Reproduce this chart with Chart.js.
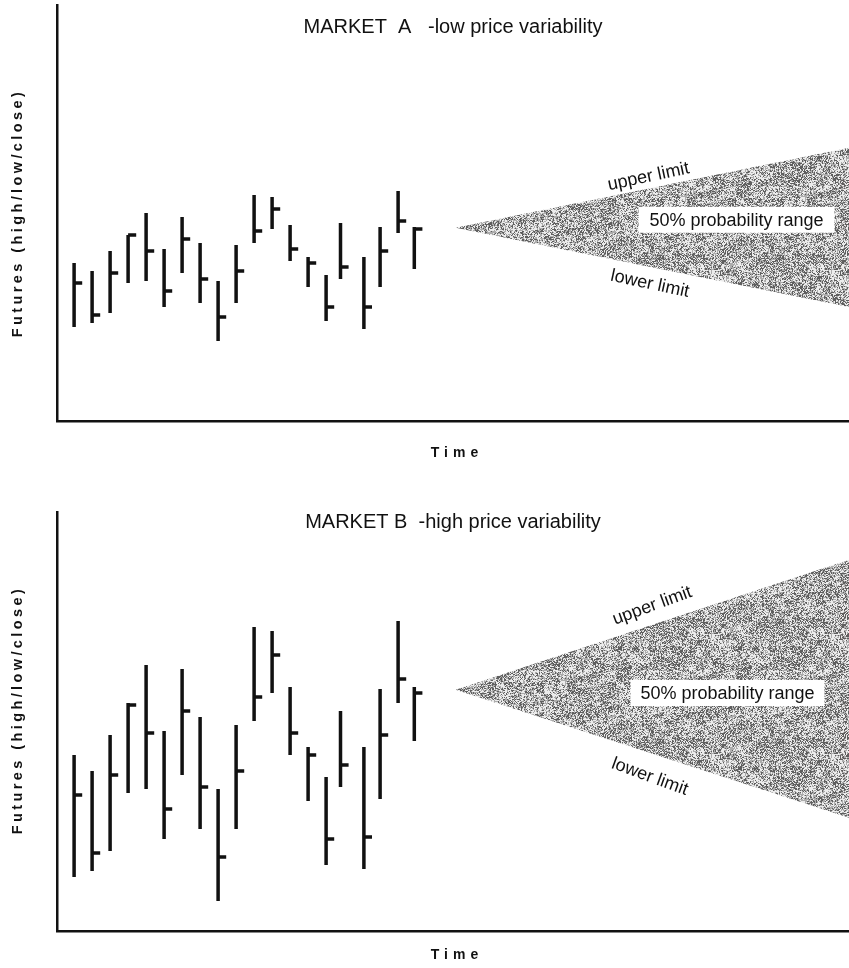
<!DOCTYPE html>
<html>
<head>
<meta charset="utf-8">
<script src="https://cdn.jsdelivr.net/npm/chart.js@4.4.1/dist/chart.umd.min.js"></script>
<style>
  html, body { margin: 0; padding: 0; background: #fff; }
  .panel { position: absolute; left: 0; width: 849px; height: 484px; }
</style>
</head>
<body>
<div class="panel" style="top:0"><canvas id="chartA" width="849" height="484"></canvas></div>
<div class="panel" style="top:484px"><canvas id="chartB" width="849" height="484"></canvas></div>
<script>
// time position of each price bar (same for both markets)
const time = [1, 2, 3, 4, 5, 6, 7, 8, 9, 10, 11, 12, 13, 14, 15, 15.8, 17.1, 18, 19, 19.9];

// Market A - low price variability
const highA  = [39.5, 37.5, 42.5, 46.5, 52, 43, 51, 44.5, 35, 44, 56.5, 56, 49, 41, 36.5, 49.5, 41, 48.5, 57.5, 48.5];
const lowA   = [23.5, 24.5, 27, 34.5, 35, 28.5, 37, 29.5, 20, 29.5, 44.5, 48, 40, 33.5, 25, 35.5, 23, 33.5, 47, 38];
const closeA = [34.5, 26.5, 37, 46.5, 42.5, 32.5, 45.5, 35.5, 26, 37.5, 47.5, 53, 43, 39.5, 28.5, 38.5, 28.5, 42.5, 50, 48];

// Market B - high price variability
const highB  = [44, 40, 49, 57, 66.5, 50, 65.5, 53.5, 35.5, 51.5, 76, 75, 61, 46, 38.5, 55, 46, 60.5, 77.5, 61];
const lowB   = [13.5, 15, 20, 34.5, 35.5, 23, 39, 25.5, 7.5, 25.5, 52.5, 59.5, 44, 32.5, 16.5, 36, 15.5, 33, 57, 47.5];
const closeB = [34, 19.5, 39, 56.5, 49.5, 30.5, 55, 36, 18.5, 40, 58.5, 69, 49.5, 44, 23, 41.5, 23.5, 49, 63, 59.5];

// 50% probability cone: start (apex) and end of the range
const coneTime = [22.2, 44.05];
const coneUpperA = [48.3, 68.3];
const coneLowerA = [48.3, 28.5];
const coneUpperB = [60.3, 92.8];
const coneLowerB = [60.3, 28.3];

const TICK = 0.45;
const INK = '#111';
const FONT = '"Liberation Sans", Arial, Helvetica, sans-serif';

function rangePoints(high, low) {
    const pts = [];
    time.forEach((t, i) => {
        pts.push({x: t, y: low[i]}, {x: t, y: high[i]}, {x: t, y: null});
    });
    return pts;
}

function closePoints(close) {
    const pts = [];
    time.forEach((t, i) => {
        pts.push({x: t, y: close[i]}, {x: t + TICK, y: close[i]}, {x: t, y: null});
    });
    return pts;
}

function conePoints(vals) {
    return coneTime.map((t, i) => ({x: t, y: vals[i]}));
}

function hash(n) {
    let h = Math.imul(n + 17, 2654435761) >>> 0;
    h ^= h >>> 15;
    h = Math.imul(h, 2246822519) >>> 0;
    h ^= h >>> 13;
    return h & 255;
}

// stippled grey texture for the cone (fine grain over coarse blotches)
function makeGrain(ctx) {
    const S = 120;
    const c = document.createElement('canvas');
    c.width = c.height = S;
    const g = c.getContext('2d');
    const img = g.createImageData(S, S);
    for (let y = 0; y < S; y++) {
        for (let x = 0; x < S; x++) {
            const i = y * S + x;
            const blotch = hash(100000 + Math.floor(x / 8) * 31 + Math.floor(y / 6) * 977) - 128;
            const v = hash(i) + blotch * 0.35;
            const gray = v < 75 ? 95 : (v < 165 ? 172 : 236);
            img.data[i * 4] = img.data[i * 4 + 1] = img.data[i * 4 + 2] = gray;
            img.data[i * 4 + 3] = 255;
        }
    }
    g.putImageData(img, 0, 0);
    return ctx.createPattern(c, 'repeat');
}

const textPlugin = {
    id: 'panelText',
    afterDraw(chart, args, opts) {
        const ctx = chart.ctx;
        const xs = chart.scales.x, ys = chart.scales.y;
        ctx.save();
        ctx.fillStyle = INK;
        ctx.textAlign = 'center';
        ctx.textBaseline = 'middle';

        // title
        ctx.font = '20px ' + FONT;
        ctx.fillText(opts.title, 453, opts.titleY);

        // axis titles
        ctx.font = 'bold 14px ' + FONT;
        ctx.letterSpacing = '5px';
        ctx.fillText('Time', 457, opts.timeY);
        ctx.save();
        ctx.translate(18, opts.futY);
        ctx.rotate(-Math.PI / 2);
        ctx.letterSpacing = '3.4px';
        ctx.font = 'bold 14.5px ' + FONT;
        ctx.fillText('Futures (high/low/close)', 0, 0);
        ctx.restore();
        ctx.letterSpacing = '0px';

        // cone labels
        ctx.font = '18px ' + FONT;
        opts.notes.forEach(n => {
            ctx.save();
            ctx.translate(xs.getPixelForValue(n.t), ys.getPixelForValue(n.v));
            ctx.rotate(n.rot * Math.PI / 180);
            if (n.box) {
                ctx.fillStyle = '#fff';
                ctx.fillRect(-n.box / 2, -13, n.box, 26);
                ctx.fillStyle = INK;
            }
            ctx.fillText(n.text, 0, 1);
            ctx.restore();
        });
        ctx.restore();
    }
};

function makePanel(id, high, low, close, upper, lower, yMax, padTop, padBottom, text) {
    const canvas = document.getElementById(id);
    const grain = makeGrain(canvas.getContext('2d'));
    const lineStyle = {
        type: 'line', showLine: true, pointRadius: 0, borderColor: INK,
        borderWidth: 3.5, borderCapStyle: 'butt', fill: false, tension: 0
    };
    return new Chart(canvas, {
        type: 'line',
        data: {
            datasets: [
                {
                    label: 'upper limit', data: conePoints(upper), pointRadius: 0,
                    borderWidth: 0, borderColor: 'rgba(0,0,0,0)', backgroundColor: grain, fill: '+1'
                },
                {
                    label: 'lower limit', data: conePoints(lower), pointRadius: 0,
                    borderWidth: 0, borderColor: 'rgba(0,0,0,0)', fill: false
                },
                Object.assign({label: 'high/low', data: rangePoints(high, low)}, lineStyle),
                Object.assign({label: 'close', data: closePoints(close), borderWidth: 3}, lineStyle)
            ]
        },
        options: {
            responsive: false,
            animation: false,
            layout: {padding: {left: 57, right: 0, top: padTop, bottom: padBottom}},
            scales: {
                x: {
                    type: 'linear', min: 0.05, max: 44.05,
                    ticks: {display: false},
                    grid: {display: false, drawTicks: false},
                    border: {display: true, color: INK, width: 2.5}
                },
                y: {
                    type: 'linear', min: 0, max: yMax,
                    ticks: {display: false},
                    grid: {display: false, drawTicks: false},
                    border: {display: true, color: INK, width: 2.5}
                }
            },
            plugins: {
                legend: {display: false},
                tooltip: {enabled: false},
                panelText: text
            }
        },
        plugins: [textPlugin]
    });
}

makePanel('chartA', highA, lowA, closeA, coneUpperA, coneLowerA, 104, 5, 63, {
    title: 'MARKET  A   -low price variability',
    titleY: 27, timeY: 453, futY: 213,
    notes: [
        {text: 'upper limit', t: 32.9, v: 61.3, rot: -12},
        {text: 'lower limit', t: 33.0, v: 34.5, rot: 12},
        {text: '50% probability range', t: 37.8, v: 50.3, rot: 0, box: 196}
    ]
});

makePanel('chartB', highB, lowB, closeB, coneUpperB, coneLowerB, 104.75, 28, 37, {
    title: 'MARKET B  -high price variability',
    titleY: 38, timeY: 471, futY: 226,
    notes: [
        {text: 'upper limit', t: 33.1, v: 81.5, rot: -20},
        {text: 'lower limit', t: 33.0, v: 38.8, rot: 20},
        {text: '50% probability range', t: 37.3, v: 59.5, rot: 0, box: 194}
    ]
});
</script>
</body>
</html>
